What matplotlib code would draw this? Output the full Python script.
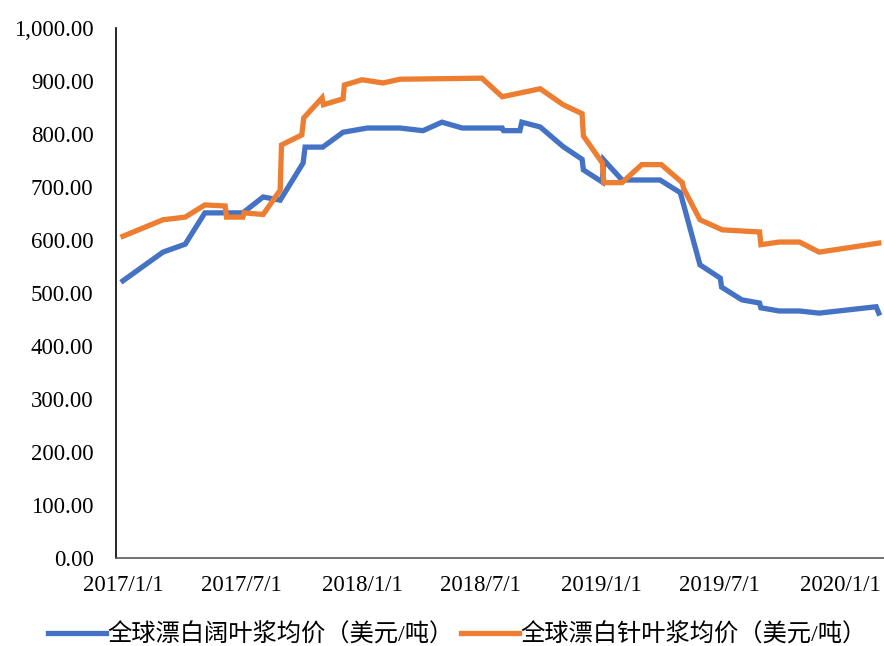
import pandas as pd
import matplotlib
matplotlib.use('Agg')
from matplotlib import pyplot as plt

# 全球漂白阔叶浆均价
hw_dates = ['2017-01-01', '2017-03-03', '2017-04-06', '2017-05-06', '2017-07-03',
            '2017-08-03', '2017-08-29', '2017-10-03', '2017-10-06', '2017-11-02',
            '2017-12-03', '2018-01-09', '2018-02-28', '2018-04-04', '2018-05-03',
            '2018-06-03', '2018-08-03', '2018-08-05', '2018-08-30', '2018-09-02',
            '2018-09-30', '2018-11-04', '2018-12-03', '2018-12-05', '2019-01-03',
            '2019-01-05', '2019-02-02', '2019-04-01', '2019-05-02', '2019-06-01',
            '2019-07-02', '2019-07-04', '2019-08-04', '2019-08-31', '2019-09-02',
            '2019-09-30', '2019-10-31', '2019-11-30', '2020-02-25', '2020-02-29']
hw_price = [523, 577, 592, 651, 651,
            681, 675, 745, 775, 775,
            803, 811, 811, 806, 822,
            811, 811, 806, 806, 822,
            813, 776, 752, 732, 709,
            751, 713, 713, 689, 553,
            528, 511, 487, 481, 472,
            466, 466, 462, 474, 462]

# 全球漂白针叶浆均价
sw_dates = ['2017-01-01', '2017-03-03', '2017-04-06', '2017-05-06', '2017-06-06',
            '2017-06-08', '2017-07-03', '2017-07-05', '2017-08-03', '2017-08-29',
            '2017-08-31', '2017-10-01', '2017-10-04', '2017-11-01', '2017-11-03',
            '2017-12-03', '2017-12-05', '2018-01-01', '2018-02-02', '2018-02-28',
            '2018-07-03', '2018-08-03', '2018-08-30', '2018-09-30', '2018-11-04',
            '2018-12-03', '2018-12-05', '2019-01-03', '2019-01-05', '2019-02-02',
            '2019-03-04', '2019-04-03', '2019-05-05', '2019-05-07', '2019-06-01',
            '2019-07-05', '2019-08-31', '2019-09-02', '2019-09-30', '2019-10-31',
            '2019-11-30', '2020-02-29']
sw_price = [607, 638, 643, 666, 664,
            643, 643, 651, 648, 694,
            779, 798, 830, 868, 855,
            866, 892, 902, 896, 903,
            905, 870, 877, 885, 855,
            838, 796, 745, 708, 708,
            742, 742, 708, 697, 638,
            619, 615, 591, 596, 596,
            577, 594]

tick_dates = ['2017-01-01', '2017-07-01', '2018-01-01', '2018-07-01',
              '2019-01-01', '2019-07-01', '2020-01-01']
tick_labels = ['2017/1/1', '2017/7/1', '2018/1/1', '2018/7/1',
               '2019/1/1', '2019/7/1', '2020/1/1']

labels = ['全球漂白阔叶浆均价（美元/吨）', '全球漂白针叶浆均价（美元/吨）']

plt.rcParams['font.family'] = ['Liberation Serif', 'Noto Sans CJK SC']

fig = plt.figure(figsize=(8.84, 6.46), dpi=100)
ax = fig.add_axes([0.131, 0.136, 0.869, 0.821])

ax.plot(pd.to_datetime(hw_dates), hw_price, color='#4472C4', lw=3.8,
        label=labels[0], solid_joinstyle='miter')
ax.plot(pd.to_datetime(sw_dates), sw_price, color='#ED7D31', lw=3.8,
        label=labels[1], solid_joinstyle='miter')

ax.set_ylim(0, 1000)
ax.set_yticks(range(0, 1001, 100))
ax.yaxis.set_major_formatter(matplotlib.ticker.FuncFormatter(lambda v, p: '{:,.2f}'.format(v)))
ax.set_xlim(pd.Timestamp('2016-12-21'), pd.Timestamp('2020-03-08'))
ax.set_xticks(pd.to_datetime(tick_dates))
ax.set_xticklabels(tick_labels)

ax.tick_params(axis='both', length=0, labelsize=16.5, colors='black')
ax.tick_params(axis='y', pad=16)
ax.tick_params(axis='x', pad=12)
for s in ['top', 'right']:
    ax.spines[s].set_visible(False)
ax.spines['left'].set_color('black')
ax.spines['left'].set_linewidth(1.2)
ax.spines['bottom'].set_color('#595959')
ax.spines['bottom'].set_linewidth(1.2)

fig.legend(loc='lower center', bbox_to_anchor=(0.517, -0.035), ncol=2, frameon=False,
           fontsize=17.5, handlelength=2.4, handletextpad=0.05, columnspacing=0.3)

fig.savefig('out.png', dpi=100)
